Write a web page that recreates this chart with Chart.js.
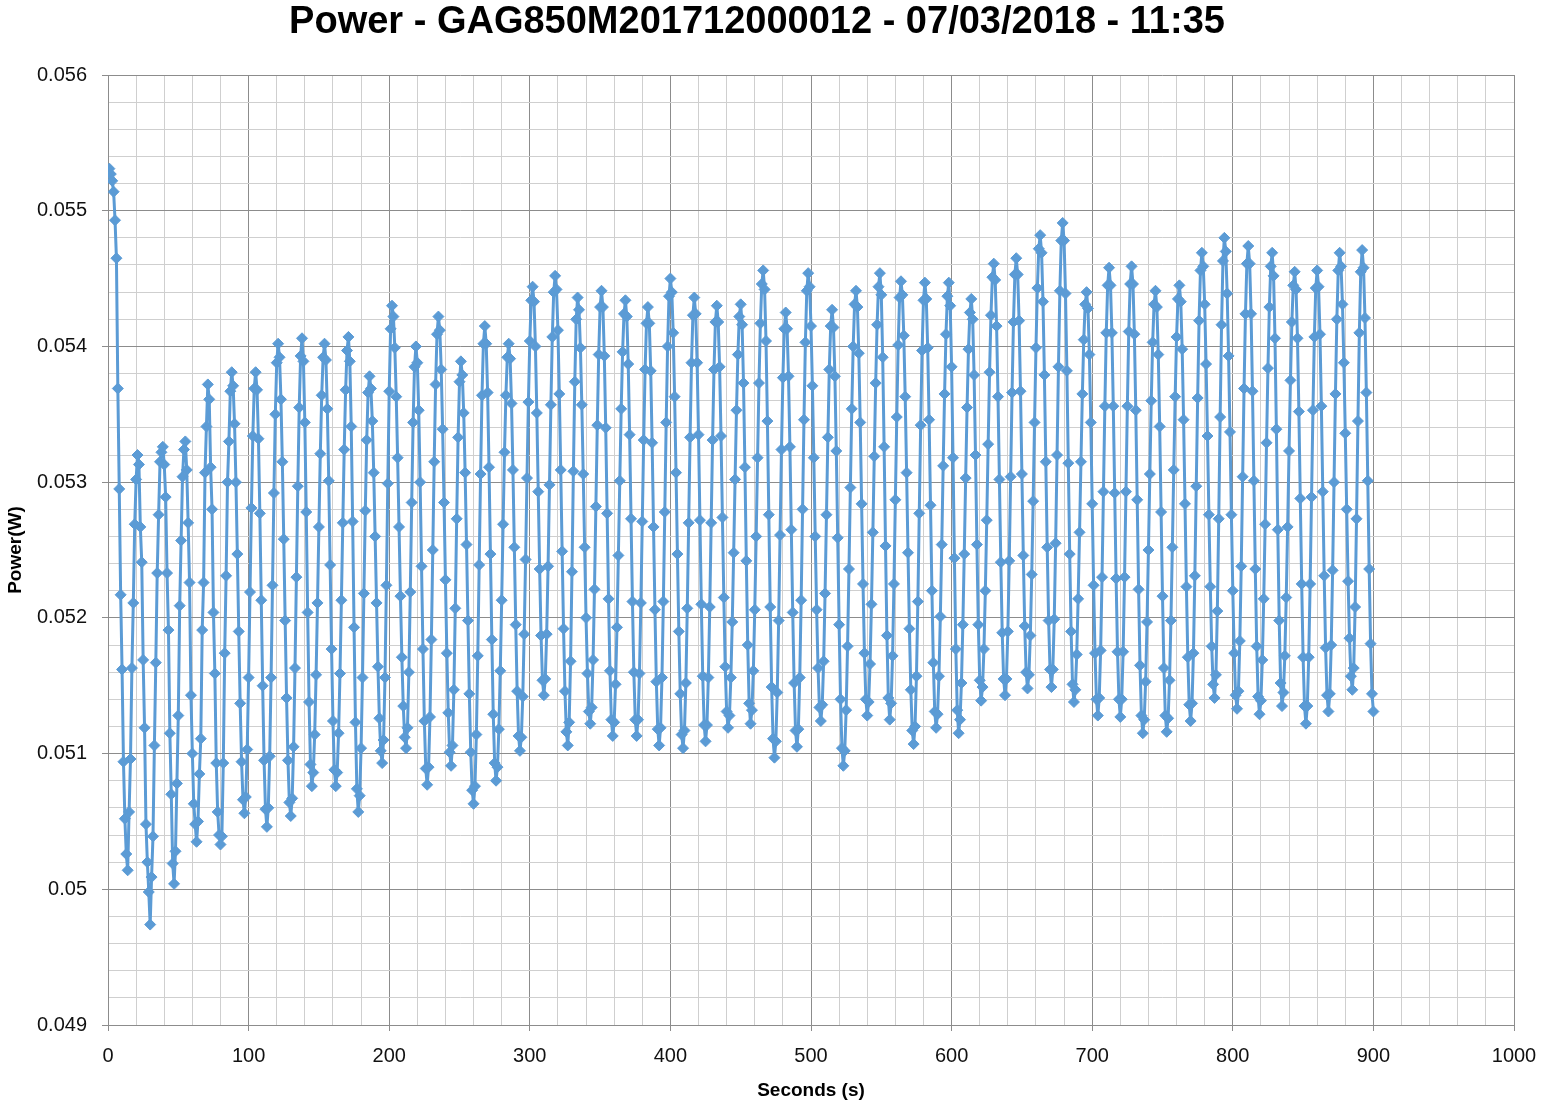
<!DOCTYPE html>
<html><head><meta charset="utf-8">
<script src="https://cdn.jsdelivr.net/npm/chart.js@4/dist/chart.umd.min.js"></script>
<style>html,body{margin:0;padding:0;background:#fff}#wrap{position:relative;width:1541px;height:1106px}</style>
</head><body><div id="wrap"><canvas id="c"></canvas></div>
<script>
const chartTitle = 'Power - GAG850M201712000012 - 07/03/2018 - 11:35';
const xAxisTitle = 'Seconds (s)';
const yAxisTitle = 'Power(W)';
const xMajorTicks = [0, 100, 200, 300, 400, 500, 600, 700, 800, 900, 1000];
const xTickLabels = ['0', '100', '200', '300', '400', '500', '600', '700', '800', '900', '1000'];
const yMajorTicks = [0.049, 0.050, 0.051, 0.052, 0.053, 0.054, 0.055, 0.056];
const yTickLabels = ['0.049', '0.05', '0.051', '0.052', '0.053', '0.054', '0.055', '0.056'];
const minorPerMajor = 5;
const firstSampleSeconds = 1;
const sampleIntervalSeconds = 1;
const powerW = [
0.05531,0.05527,0.05522,0.05514,0.05493,0.05465,0.05369,0.05295,0.05217,0.05162,
0.05094,0.05052,0.05026,0.05014,0.05057,0.05096,0.05163,0.05211,0.05269,0.05302,
0.05320,0.05313,0.05267,0.05241,0.05169,0.05119,0.05048,0.05020,0.04998,0.04974,
0.05009,0.05039,0.05106,0.05167,0.05233,0.05276,0.05315,0.05322,0.05326,0.05313,
0.05289,0.05233,0.05191,0.05115,0.05070,0.05019,0.05004,0.05028,0.05078,0.05128,
0.05209,0.05257,0.05304,0.05324,0.05330,0.05309,0.05270,0.05226,0.05143,0.05100,
0.05063,0.05048,0.05035,0.05050,0.05085,0.05111,0.05191,0.05226,0.05307,0.05341,
0.05372,0.05361,0.05311,0.05280,0.05204,0.05159,0.05093,0.05057,0.05040,0.05033,
0.05039,0.05093,0.05174,0.05231,0.05300,0.05330,0.05367,0.05381,0.05371,0.05343,
0.05300,0.05247,0.05190,0.05137,0.05094,0.05066,0.05056,0.05068,0.05103,0.05156,
0.05219,0.05281,0.05334,0.05369,0.05381,0.05368,0.05332,0.05277,0.05213,0.05150,
0.05095,0.05059,0.05046,0.05060,0.05098,0.05156,0.05224,0.05292,0.05350,0.05388,
0.05402,0.05392,0.05361,0.05315,0.05258,0.05198,0.05141,0.05095,0.05064,0.05054,
0.05067,0.05105,0.05163,0.05230,0.05297,0.05355,0.05393,0.05406,0.05389,0.05344,
0.05278,0.05204,0.05138,0.05092,0.05076,0.05086,0.05114,0.05158,0.05211,0.05267,
0.05321,0.05364,0.05392,0.05402,0.05390,0.05354,0.05301,0.05239,0.05177,0.05124,
0.05088,0.05076,0.05086,0.05115,0.05159,0.05213,0.05270,0.05324,0.05368,0.05397,
0.05407,0.05389,0.05341,0.05271,0.05193,0.05123,0.05074,0.05057,0.05069,0.05104,
0.05156,0.05218,0.05279,0.05331,0.05366,0.05378,0.05369,0.05345,0.05307,0.05260,
0.05211,0.05164,0.05126,0.05102,0.05093,0.05110,0.05156,0.05224,0.05299,0.05367,
0.05413,0.05430,0.05422,0.05399,0.05363,0.05318,0.05267,0.05216,0.05171,0.05135,
0.05112,0.05104,0.05119,0.05160,0.05219,0.05285,0.05344,0.05385,0.05400,0.05388,
0.05353,0.05300,0.05238,0.05177,0.05124,0.05089,0.05077,0.05090,0.05127,0.05184,
0.05250,0.05315,0.05372,0.05409,0.05422,0.05412,0.05383,0.05339,0.05285,0.05228,
0.05174,0.05130,0.05101,0.05091,0.05106,0.05147,0.05207,0.05273,0.05333,0.05374,
0.05389,0.05379,0.05351,0.05307,0.05254,0.05198,0.05144,0.05101,0.05073,0.05063,
0.05076,0.05114,0.05172,0.05239,0.05306,0.05364,0.05402,0.05415,0.05402,0.05366,
0.05311,0.05247,0.05184,0.05129,0.05093,0.05080,0.05090,0.05118,0.05161,0.05213,
0.05269,0.05322,0.05364,0.05392,0.05402,0.05391,0.05358,0.05309,0.05252,0.05195,
0.05146,0.05113,0.05102,0.05112,0.05142,0.05188,0.05243,0.05303,0.05359,0.05404,
0.05434,0.05444,0.05433,0.05400,0.05351,0.05293,0.05236,0.05187,0.05154,0.05143,
0.05155,0.05188,0.05238,0.05298,0.05357,0.05407,0.05440,0.05452,0.05442,0.05412,
0.05365,0.05309,0.05249,0.05192,0.05146,0.05116,0.05106,0.05123,0.05168,0.05234,
0.05308,0.05374,0.05420,0.05436,0.05427,0.05399,0.05357,0.05306,0.05252,0.05200,
0.05159,0.05131,0.05122,0.05134,0.05169,0.05221,0.05282,0.05342,0.05394,0.05429,
0.05441,0.05429,0.05393,0.05340,0.05277,0.05214,0.05161,0.05125,0.05113,0.05123,
0.05151,0.05193,0.05246,0.05301,0.05354,0.05396,0.05424,0.05434,0.05422,0.05387,
0.05335,0.05273,0.05212,0.05160,0.05125,0.05113,0.05125,0.05159,0.05211,0.05271,
0.05331,0.05383,0.05417,0.05429,0.05417,0.05382,0.05329,0.05267,0.05206,0.05153,
0.05118,0.05106,0.05119,0.05156,0.05212,0.05278,0.05344,0.05400,0.05437,0.05450,
0.05440,0.05410,0.05363,0.05307,0.05247,0.05190,0.05144,0.05114,0.05104,0.05117,
0.05152,0.05207,0.05270,0.05333,0.05388,0.05423,0.05436,0.05424,0.05388,0.05335,
0.05272,0.05210,0.05157,0.05121,0.05109,0.05121,0.05156,0.05208,0.05270,0.05331,
0.05383,0.05418,0.05430,0.05418,0.05385,0.05334,0.05274,0.05215,0.05164,0.05131,
0.05119,0.05128,0.05156,0.05197,0.05248,0.05302,0.05353,0.05394,0.05422,0.05431,
0.05416,0.05373,0.05311,0.05242,0.05180,0.05137,0.05122,0.05132,0.05161,0.05206,
0.05260,0.05318,0.05373,0.05417,0.05446,0.05456,0.05442,0.05404,0.05345,0.05276,
0.05208,0.05149,0.05111,0.05097,0.05109,0.05145,0.05198,0.05261,0.05324,0.05377,
0.05413,0.05425,0.05413,0.05378,0.05326,0.05265,0.05204,0.05152,0.05117,0.05105,
0.05118,0.05156,0.05213,0.05280,0.05346,0.05403,0.05441,0.05454,0.05444,0.05415,
0.05371,0.05318,0.05260,0.05206,0.05163,0.05134,0.05124,0.05136,0.05168,0.05218,
0.05276,0.05333,0.05383,0.05415,0.05427,0.05414,0.05378,0.05323,0.05259,0.05195,
0.05140,0.05104,0.05091,0.05102,0.05132,0.05179,0.05236,0.05296,0.05354,0.05400,
0.05431,0.05441,0.05429,0.05395,0.05344,0.05284,0.05225,0.05174,0.05140,0.05128,
0.05138,0.05166,0.05210,0.05263,0.05319,0.05373,0.05416,0.05444,0.05454,0.05438,
0.05392,0.05326,0.05253,0.05187,0.05141,0.05125,0.05137,0.05172,0.05225,0.05287,
0.05348,0.05401,0.05436,0.05448,0.05438,0.05408,0.05363,0.05307,0.05248,0.05192,
0.05147,0.05117,0.05107,0.05120,0.05157,0.05212,0.05277,0.05342,0.05397,0.05434,
0.05447,0.05435,0.05399,0.05346,0.05283,0.05220,0.05167,0.05131,0.05119,0.05129,
0.05157,0.05201,0.05254,0.05312,0.05365,0.05409,0.05437,0.05447,0.05430,0.05385,
0.05318,0.05244,0.05177,0.05132,0.05115,0.05125,0.05152,0.05195,0.05247,0.05303,
0.05355,0.05398,0.05425,0.05435,0.05420,0.05379,0.05320,0.05254,0.05195,0.05154,
0.05139,0.05149,0.05177,0.05220,0.05272,0.05328,0.05381,0.05423,0.05451,0.05461,
0.05449,0.05415,0.05363,0.05302,0.05241,0.05189,0.05155,0.05143,0.05155,0.05190,
0.05242,0.05304,0.05366,0.05418,0.05453,0.05465,0.05453,0.05419,0.05367,0.05306,
0.05246,0.05194,0.05160,0.05148,0.05158,0.05187,0.05232,0.05286,0.05344,0.05399,
0.05443,0.05472,0.05482,0.05469,0.05433,0.05379,0.05315,0.05252,0.05198,0.05162,
0.05149,0.05162,0.05199,0.05255,0.05320,0.05385,0.05441,0.05478,0.05491,0.05478,
0.05439,0.05382,0.05314,0.05247,0.05190,0.05151,0.05138,0.05147,0.05173,0.05214,
0.05263,0.05315,0.05365,0.05405,0.05431,0.05440,0.05428,0.05394,0.05344,0.05284,
0.05224,0.05174,0.05140,0.05128,0.05141,0.05176,0.05230,0.05293,0.05356,0.05410,
0.05445,0.05458,0.05445,0.05410,0.05356,0.05292,0.05229,0.05175,0.05140,0.05127,
0.05140,0.05175,0.05230,0.05293,0.05356,0.05411,0.05446,0.05459,0.05446,0.05409,
0.05353,0.05287,0.05221,0.05165,0.05128,0.05115,0.05125,0.05153,0.05197,0.05250,
0.05306,0.05360,0.05403,0.05431,0.05441,0.05429,0.05394,0.05341,0.05278,0.05216,
0.05163,0.05128,0.05116,0.05126,0.05154,0.05198,0.05252,0.05309,0.05363,0.05407,
0.05435,0.05445,0.05433,0.05398,0.05346,0.05284,0.05223,0.05171,0.05136,0.05124,
0.05137,0.05174,0.05231,0.05297,0.05362,0.05419,0.05456,0.05469,0.05459,0.05431,
0.05387,0.05334,0.05276,0.05223,0.05179,0.05151,0.05141,0.05158,0.05205,0.05273,
0.05348,0.05416,0.05463,0.05480,0.05470,0.05439,0.05393,0.05337,0.05276,0.05220,
0.05174,0.05143,0.05133,0.05146,0.05183,0.05238,0.05304,0.05369,0.05424,0.05461,
0.05474,0.05461,0.05424,0.05367,0.05301,0.05236,0.05179,0.05142,0.05129,0.05139,
0.05169,0.05214,0.05269,0.05329,0.05384,0.05429,0.05459,0.05469,0.05452,0.05406,
0.05339,0.05265,0.05198,0.05152,0.05135,0.05145,0.05172,0.05215,0.05267,0.05323,
0.05375,0.05418,0.05445,0.05455,0.05442,0.05406,0.05352,0.05288,0.05225,0.05171,
0.05135,0.05122,0.05135,0.05171,0.05225,0.05289,0.05353,0.05407,0.05443,0.05456,
0.05444,0.05409,0.05356,0.05293,0.05231,0.05178,0.05143,0.05131,0.05144,0.05180,
0.05235,0.05300,0.05365,0.05420,0.05456,0.05469,0.05459,0.05431,0.05388,0.05336,
0.05280,0.05227,0.05185,0.05157,0.05147,0.05163,0.05208,0.05273,0.05345,0.05410,
0.05455,0.05471,0.05458,0.05421,0.05366,0.05301,0.05236,0.05181,0.05144,0.05131
];

const SERIES_COLOR = '#5B9BD5';
const MAJOR_GRID = '#8c8c8c';
const MINOR_GRID = '#cfcfcf';
const FONT = 'Liberation Sans';

function buildMinorTicks(majors) {
  const out = [];
  for (let i = 0; i < majors.length - 1; i++) {
    const step = (majors[i + 1] - majors[i]) / minorPerMajor;
    for (let k = 0; k < minorPerMajor; k++) out.push({ value: Number((majors[i] + k * step).toFixed(8)) });
  }
  out.push({ value: majors[majors.length - 1] });
  return out;
}

const points = powerW.map((v, i) => ({ x: firstSampleSeconds + i * sampleIntervalSeconds, y: v }));
const gridColor = (ctx) => (ctx.index % minorPerMajor === 0 ? MAJOR_GRID : MINOR_GRID);
const tickMarkColor = (ctx) => (ctx.index % minorPerMajor === 0 ? MAJOR_GRID : 'rgba(0,0,0,0)');

new Chart(document.getElementById('c'), {
  type: 'line',
  data: {
    datasets: [{
      data: points,
      borderColor: SERIES_COLOR,
      backgroundColor: SERIES_COLOR,
      borderWidth: 3,
      borderJoinStyle: 'round',
      borderCapStyle: 'round',
      pointStyle: 'rectRot',
      pointRadius: 5.5,
      pointBorderWidth: 1,
      pointBackgroundColor: SERIES_COLOR,
      pointBorderColor: SERIES_COLOR,
      tension: 0,
      fill: false
    }]
  },
  options: {
    responsive: true,
    maintainAspectRatio: false,
    animation: false,
    events: [],
    layout: { padding: { left: 0, right: 27, top: 0, bottom: 0 } },
    plugins: {
      legend: { display: false },
      tooltip: { enabled: false },
      title: {
        display: true,
        text: chartTitle,
        color: '#000',
        font: { family: FONT, size: 38, weight: 'bold' },
        padding: { top: 0, bottom: 29.4 }
      }
    },
    scales: {
      x: {
        type: 'linear',
        min: xMajorTicks[0],
        max: xMajorTicks[xMajorTicks.length - 1],
        afterBuildTicks: (scale) => { scale.ticks = buildMinorTicks(xMajorTicks); },
        afterFit: (scale) => { scale.height = 81; scale.paddingLeft = 0; scale.paddingRight = 0; },
        ticks: {
          autoSkip: false, maxRotation: 0, minRotation: 0, padding: 13,
          color: '#111', font: { family: FONT, size: 20 },
          callback: (value, index) => (index % minorPerMajor === 0 ? xTickLabels[index / minorPerMajor] : '')
        },
        grid: { color: gridColor, tickColor: tickMarkColor, tickLength: 6, lineWidth: 1 },
        border: { display: true, color: MAJOR_GRID, width: 1 },
        title: { display: true, text: xAxisTitle, color: '#000', font: { family: FONT, size: 19, weight: 'bold' }, padding: { top: 0, bottom: 4 } }
      },
      y: {
        type: 'linear',
        min: yMajorTicks[0],
        max: yMajorTicks[yMajorTicks.length - 1],
        afterBuildTicks: (scale) => { scale.ticks = buildMinorTicks(yMajorTicks); },
        afterFit: (scale) => { scale.width = 108; scale.paddingTop = 0; scale.paddingBottom = 0; },
        ticks: {
          autoSkip: false, padding: 15,
          color: '#111', font: { family: FONT, size: 20 },
          callback: (value, index) => (index % minorPerMajor === 0 ? yTickLabels[index / minorPerMajor] : '')
        },
        grid: { color: gridColor, tickColor: tickMarkColor, tickLength: 6, lineWidth: 1 },
        border: { display: true, color: MAJOR_GRID, width: 1 },
        title: { display: true, text: yAxisTitle, color: '#000', font: { family: FONT, size: 19, weight: 'bold' }, padding: { top: 4, bottom: 0 } }
      }
    }
  }
});
</script>
</body></html>
